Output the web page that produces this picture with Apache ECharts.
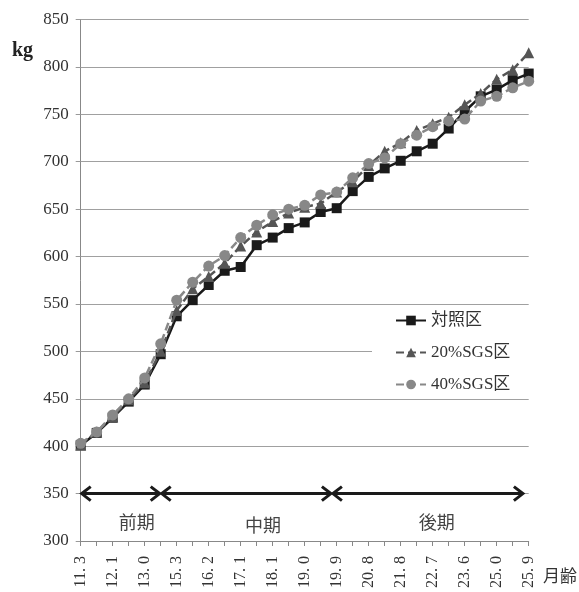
<!DOCTYPE html>
<html>
<head>
<meta charset="utf-8">
<script src="https://cdn.jsdelivr.net/npm/echarts@6/dist/echarts.min.js"></script>
<style>
html,body{margin:0;padding:0;background:#fff;}
#chart{width:579px;height:592px;}
</style>
</head>
<body>
<div id="chart"></div>
<script>
// ---- data ----
const categories = ['11.3','11.7','12.1','12.6','13.0','14.1','15.3','15.7','16.2','16.6','17.1','17.6','18.1','18.5','19.0','19.4','19.9','20.3','20.8','21.3','21.8','22.2','22.7','23.1','23.6','24.3','25.0','25.4','25.9'];
const seriesNames = ['対照区', '20%SGS区', '40%SGS区'];
const control = [401,414,430,447,465,497,537,554,570,585,589,612,620,630,636,647,651,669,684,693,701,711,719,735,753,769,776,786,793];
const sgs20 = [401,415,431,449,467,500,543,566,579,593,611,626,637,646,652,656,668,679,696,711,720,733,740,747,760,772,787,797,815];
const sgs40 = [403,415,433,450,472,508,554,573,590,601,620,633,644,650,654,665,668,683,698,704,719,728,737,743,745,764,769,778,785];
const yTicks = [300,350,400,450,500,550,600,650,700,750,800,850];
// growth periods: [start category index, end category index, y value]
const periods = [[0,5,350],[5,15.7,350],[15.7,27.7,350]];
const periodNames = ['前期','中期','後期'];
const periodLabelPos = [[3.5,320],[11.4,317],[22.25,320]];

const FONT = "'Liberation Serif', 'Noto Sans CJK JP', serif";
const chart = echarts.init(document.getElementById('chart'), null, {renderer:'canvas'});

const option = {
  animation: false,
  grid: {left: 80.7, right: 50.3, top: 19.5, bottom: 51},
  xAxis: [{
    type: 'category',
    data: categories,
    boundaryGap: false,
    axisLine: {lineStyle: {color: '#888', width: 1}},
    axisTick: {show: true, interval: 0, length: 5, inside: false, lineStyle: {color: '#888'}},
    axisLabel: {
      interval: 1, rotate: 90, margin: 15,
      fontFamily: FONT, fontSize: 16, color: '#333',
      formatter: v => v.replace('.', '. ')
    },
    splitLine: {show: false}
  }, {
    type: 'value', min: 0, max: categories.length - 1, show: false
  }],
  yAxis: {
    type: 'value', min: yTicks[0], max: yTicks[yTicks.length-1], interval: 50,
    axisLine: {show: true, lineStyle: {color: '#888'}},
    axisTick: {show: true, length: 5, lineStyle: {color: '#999'}},
    axisLabel: {fontFamily: FONT, fontSize: 17, color: '#333', margin: 12},
    splitLine: {show: true, lineStyle: {color: '#a0a0a0', width: 1}}
  },
  legend: {
    data: seriesNames,
    orient: 'vertical',
    left: 372, top: 305,
    backgroundColor: '#fff',
    padding: [7, 20, 3, 23],
    itemWidth: 30, itemHeight: 12, itemGap: 15,
    textStyle: {fontFamily: FONT, fontSize: 17, color: '#333', padding: [0,0,0,0]},
  },
  graphic: [
    {type: 'text', left: 12, top: 41, style: {text: 'kg', font: "bold 20px 'Liberation Serif', serif", fill: '#222'}},
    {type: 'text', left: 543, top: 567, style: {text: '月齢', font: "17px 'Noto Sans CJK JP', sans-serif", fill: '#333'}}
  ],
  series: [
    {
      name: seriesNames[0], type: 'line', data: control,
      symbol: 'rect', symbolSize: 10, showAllSymbol: true,
      lineStyle: {color: '#1a1a1a', width: 2.5},
      itemStyle: {color: '#1a1a1a'},
      z: 3
    },
    {
      name: seriesNames[1], type: 'line', data: sgs20,
      symbol: 'triangle', symbolSize: 11, showAllSymbol: true,
      lineStyle: {color: '#555', width: 2.5, type: [8, 4]},
      itemStyle: {color: '#555'},
      z: 4
    },
    {
      name: seriesNames[2], type: 'line', data: sgs40,
      symbol: 'circle', symbolSize: 11, showAllSymbol: true,
      lineStyle: {color: '#888', width: 2.5, type: [8, 4]},
      itemStyle: {color: '#888'},
      z: 5
    },
    {
      type: 'custom', xAxisIndex: 1, yAxisIndex: 0, silent: true, z: 6,
      data: periods.map((p, i) => [p[0], p[1], p[2], i]),
      renderItem: function (params, api) {
        const x0 = api.value(0), x1 = api.value(1), y = api.value(2), idx = api.value(3);
        const a = api.coord([x0, y]), b = api.coord([x1, y]);
        const lp = api.coord(periodLabelPos[idx]);
        const st = {stroke: '#1a1a1a', lineWidth: 3, fill: null};
        const h = 7, w = 10;
        return {
          type: 'group',
          children: [
            {type: 'line', shape: {x1: a[0]+1, y1: a[1], x2: b[0]-1, y2: b[1]}, style: st},
            {type: 'polyline', shape: {points: [[a[0]+w, a[1]-h], [a[0]+1, a[1]], [a[0]+w, a[1]+h]]}, style: st},
            {type: 'polyline', shape: {points: [[b[0]-w, b[1]-h], [b[0]-1, b[1]], [b[0]-w, b[1]+h]]}, style: st},
            {type: 'text', x: lp[0], y: lp[1], style: {text: periodNames[idx], font: "18px 'Noto Sans CJK JP', sans-serif", fill: '#444', align: 'center', verticalAlign: 'middle'}}
          ]
        };
      }
    }
  ]
};
chart.setOption(option);
</script>
</body>
</html>
